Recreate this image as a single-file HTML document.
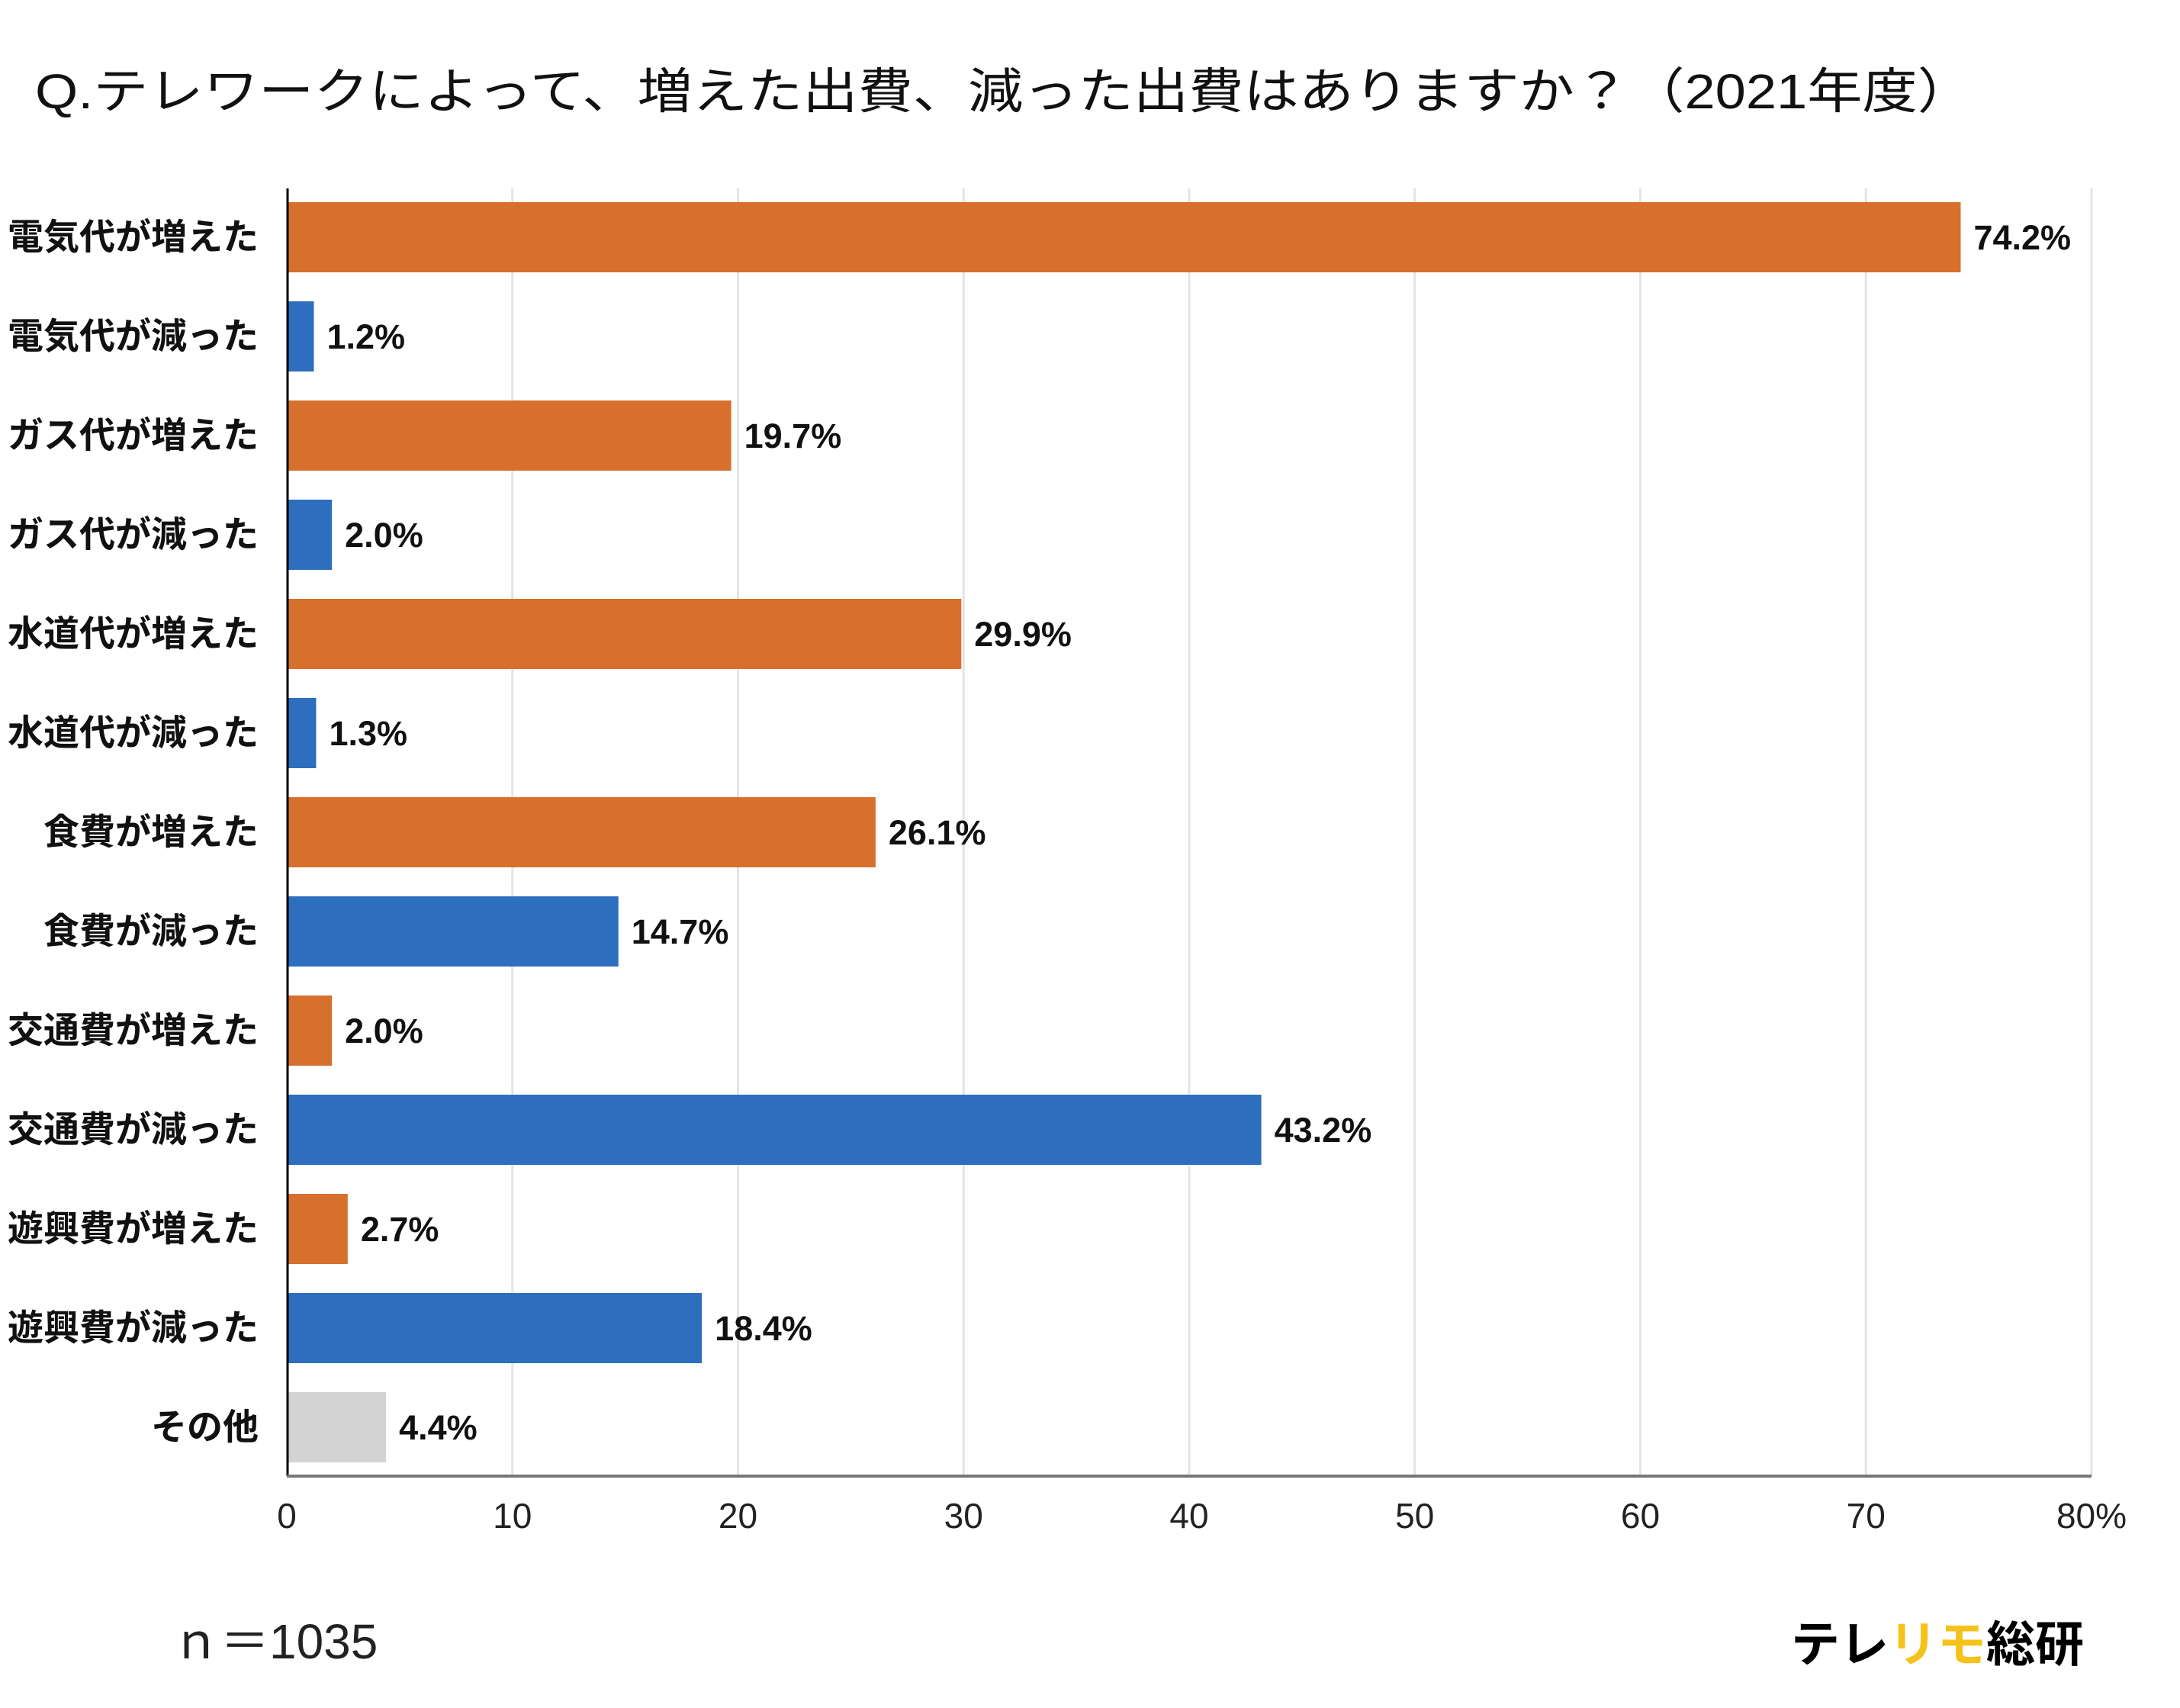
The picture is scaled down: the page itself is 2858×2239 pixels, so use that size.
<!DOCTYPE html>
<html><head><meta charset="utf-8"><style>
html,body{margin:0;padding:0;background:#fff;}
svg{display:block;font-family:"Liberation Sans","Noto Sans CJK JP",sans-serif;}
</style></head><body>
<svg id="chart" width="2858" height="2239" viewBox="0 0 2858 2239" xmlns="http://www.w3.org/2000/svg">
<rect width="2858" height="2239" fill="#fff"/>
<text x="46" y="142" font-size="64" fill="#111" textLength="2540" lengthAdjust="spacingAndGlyphs">Q.テレワークによって、増えた出費、減った出費はありますか？（2021年度）</text>
<g id="grid"></g>
<g id="bars"></g>
<g id="ticks"></g>
<line x1="377" y1="247" x2="377" y2="1935" stroke="#000" stroke-width="3"/>
<line x1="376" y1="1935" x2="2742" y2="1935" stroke="#777" stroke-width="4"/>
<text x="225" y="2174" font-size="64" fill="#222">ｎ＝1035</text>
<text x="2348" y="2178" font-size="64" font-weight="bold" fill="#000">テレ<tspan fill="#F5C21B">リモ</tspan>総研</text>
</svg>
<script>
const categories = ["電気代が増えた","電気代が減った","ガス代が増えた","ガス代が減った","水道代が増えた","水道代が減った","食費が増えた","食費が減った","交通費が増えた","交通費が減った","遊興費が増えた","遊興費が減った","その他"];
const values = [74.2,1.2,19.7,2.0,29.9,1.3,26.1,14.7,2.0,43.2,2.7,18.4,4.4];
const kinds = ["inc","dec","inc","dec","inc","dec","inc","dec","inc","dec","inc","dec","other"];
const ticks = [0,10,20,30,40,50,60,70,80];
const tickLabels = ["0","10","20","30","40","50","60","70","80%"];

const NS = "http://www.w3.org/2000/svg";
const x0 = 376, x1 = 2742, xMax = 80;
const xs = v => x0 + (x1 - x0) * v / xMax;
const rowY = i => 311 + 130 * i;
const colors = {inc:"#D6702C", dec:"#2D6EBE", other:"#D3D3D3"};
function mk(tag, attrs, parent){ const e=document.createElementNS(NS,tag); for(const k in attrs) e.setAttribute(k,attrs[k]); parent.appendChild(e); return e; }
const grid=document.getElementById('grid'), bars=document.getElementById('bars'), tk=document.getElementById('ticks');
ticks.forEach((t,i)=>{
  if(t>0){
    const g=mk('line',{x1:xs(t),x2:xs(t),y1:247,y2:1935,stroke:"#e4e4e4","stroke-width":3},grid);
    
    
  }
  const tl=mk('text',{x:xs(t),y:2003,"font-size":46,fill:"#222","text-anchor":"middle"},tk);
  tl.textContent=tickLabels[i];
  
  
});
categories.forEach((c,i)=>{
  const cy=rowY(i);
  const lab=mk('text',{x:339,y:cy+16,"font-size":47,"font-weight":"bold",fill:"#111","text-anchor":"end"},bars);
  lab.textContent=c;
  
  
  const r=mk('rect',{x:x0,y:cy-46,width:xs(values[i])-x0,height:92,fill:colors[kinds[i]]},bars);
  
  
  const v=mk('text',{x:xs(values[i])+17,y:cy+16,"font-size":45,"font-weight":"bold",fill:"#111"},bars);
  v.textContent=values[i].toFixed(1)+"%";
  
  
});
</script>
</body></html>
